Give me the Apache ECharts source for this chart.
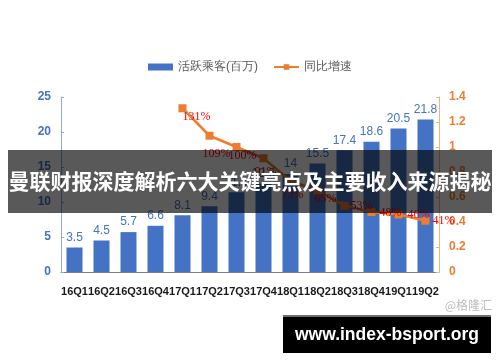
<!DOCTYPE html>
<html>
<head>
<meta charset="utf-8">
<script src="https://cdn.jsdelivr.net/npm/echarts@6/dist/echarts.min.js"></script>
<style>html,body{margin:0;padding:0;background:#fff}#c{width:500px;height:362px}</style>
</head>
<body>
<div id="c"></div>
<script>
var categories = ['16Q1','16Q2','16Q3','16Q4','17Q1','17Q2','17Q3','17Q4','18Q1','18Q2','18Q3','18Q4','19Q1','19Q2'];
var activeRiders = [3.5, 4.5, 5.7, 6.6, 8.1, 9.4, 11.4, 12.6, 14, 15.5, 17.4, 18.6, 20.5, 21.8];
var yoyGrowth = [null, null, null, null, 1.31, 1.09, 1.00, 0.91, 0.73, 0.65, 0.53, 0.48, 0.46, 0.41];
var leftTicks = [0, 5, 10, 15, 20, 25];
var rightTicks = [0, 0.2, 0.4, 0.6, 0.8, 1, 1.2, 1.4];
var seriesNames = ['活跃乘客(百万)', '同比增速'];
var bannerTitle = '曼联财报深度解析六大关键亮点及主要收入来源揭秘';
var siteText = 'www.index-bsport.org';
var sourceText = '@格隆汇';

var labelOffsets = [null,null,null,null,[14,9],[7,18],[6,9],[2,14],[2,14],[8,8],[17,0],[19,1],[20,0],[18,0]];

var lineData = yoyGrowth.map(function(v, i){
  if (v === null) return null;
  return {value: v, label: {show: true, position: 'inside', offset: labelOffsets[i]}};
});

var chart = echarts.init(document.getElementById('c'));
chart.setOption({
  animation: false,
  textStyle: {fontFamily: 'Liberation Sans, Arial, sans-serif'},
  legend: {
    top: 56, left: 'center', itemWidth: 25, itemHeight: 7, itemGap: 15,
    textStyle: {color: '#595959', fontSize: 12},
    data: [{name: seriesNames[0], icon: 'rect'}, {name: seriesNames[1]}]
  },
  grid: {left: 61, right: 61, top: 97, bottom: 90},
  xAxis: {
    type: 'category', data: categories,
    axisLine: {lineStyle: {color: '#808080'}},
    axisTick: {inside: true, length: 3, lineStyle: {color: '#808080'}},
    axisLabel: {interval: 0, color: '#1a1a1a', fontWeight: 'bold', fontSize: 11, margin: 14}
  },
  yAxis: [{
    type: 'value', min: leftTicks[0], max: leftTicks[leftTicks.length-1], interval: 5,
    splitLine: {show: false},
    axisLine: {show: true, lineStyle: {color: '#8eaadb'}},
    axisTick: {show: true, inside: true, length: 3, lineStyle: {color: '#8eaadb'}},
    axisLabel: {color: '#4472c4', fontWeight: 'bold', fontSize: 12, margin: 10}
  }, {
    type: 'value', min: rightTicks[0], max: rightTicks[rightTicks.length-1], interval: 0.2,
    splitLine: {show: false},
    axisLine: {show: true, lineStyle: {color: '#f4b183'}},
    axisTick: {show: true, inside: true, length: 3, lineStyle: {color: '#f4b183'}},
    axisLabel: {color: '#ed7d31', fontWeight: 'bold', fontSize: 12, margin: 10,
      formatter: function(v){ return String(Math.round(v*10)/10); }}
  }],
  series: [{
    name: seriesNames[0], type: 'bar', data: activeRiders, barWidth: 16, yAxisIndex: 0,
    itemStyle: {color: '#4472c4'},
    label: {show: true, position: 'top', distance: 4, color: '#4472c4', fontSize: 12}
  }, {
    name: seriesNames[1], type: 'line', data: lineData, yAxisIndex: 1,
    symbol: 'rect', symbolSize: 8, connectNulls: false,
    lineStyle: {color: '#ed7d31', width: 2.5},
    itemStyle: {color: '#ed7d31'},
    label: {show: true, color: '#ff0000', fontSize: 12, fontFamily: 'Liberation Serif, serif',
      formatter: function(p){ return Math.round(p.value*100) + '%'; }}
  }],
  graphic: [
    {type: 'rect', z: 100, shape: {x: 8, y: 150, width: 484, height: 63}, style: {fill: 'rgba(0,0,0,0.65)'}},
    {type: 'text', z: 101, x: 250, y: 181, style: {text: bannerTitle, fill: '#fff', font: 'bold 21px "Noto Sans CJK SC", sans-serif', textAlign: 'center', textVerticalAlign: 'middle'}},
    {type: 'text', z: 101, x: 492, y: 305, style: {text: sourceText, fill: '#bdbdbd', font: '12px "Noto Sans CJK SC", sans-serif', textAlign: 'right', textVerticalAlign: 'middle'}},
    {type: 'rect', z: 100, shape: {x: 283, y: 315, width: 208, height: 2}, style: {fill: '#6e6e6e'}},
    {type: 'rect', z: 100, shape: {x: 283, y: 317, width: 208, height: 36}, style: {fill: '#000'}},
    {type: 'text', z: 101, x: 387, y: 335, style: {text: siteText, fill: '#fff', font: 'bold 17.5px "Liberation Sans", Arial, sans-serif', textAlign: 'center', textVerticalAlign: 'middle'}}
  ]
});
</script>
</body>
</html>
